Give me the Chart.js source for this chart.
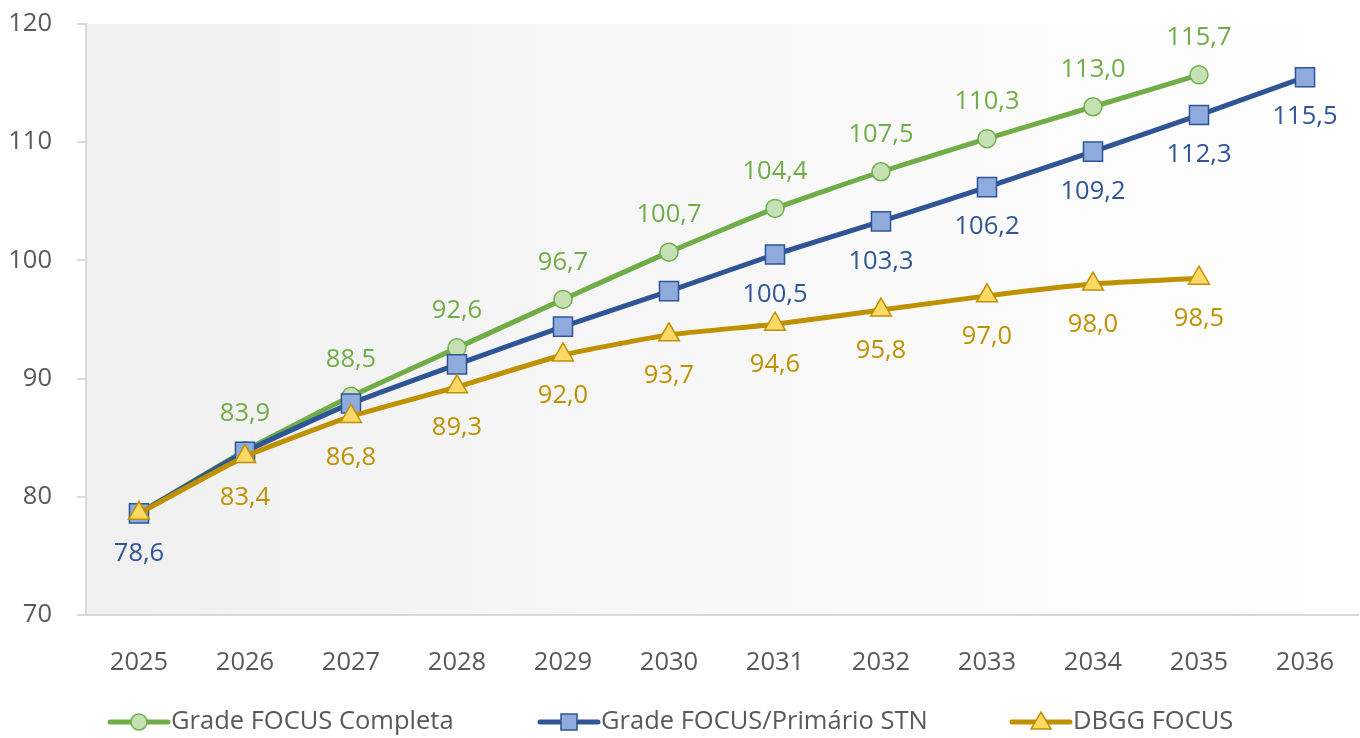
<!DOCTYPE html>
<html>
<head>
<meta charset="utf-8">
<script src="https://cdn.jsdelivr.net/npm/chart.js@4.4.1/dist/chart.umd.min.js"></script>
<style>
  html, body { margin: 0; padding: 0; background: #fff; overflow: hidden; }
  #wrap { width: 1360px; height: 738px; position: relative; }
</style>
</head>
<body>
<div id="wrap"><canvas id="grafico"></canvas></div>
<script>
// Dados
const anos = ['2025', '2026', '2027', '2028', '2029', '2030', '2031', '2032', '2033', '2034', '2035', '2036'];
const gradeCompleta = [78.6, 83.9, 88.5, 92.6, 96.7, 100.7, 104.4, 107.5, 110.3, 113.0, 115.7, null];
const gradePrimario = [78.6, 83.8, 87.9, 91.2, 94.4, 97.4, 100.5, 103.3, 106.2, 109.2, 112.3, 115.5];
const dbggFocus = [78.6, 83.4, 86.8, 89.3, 92.0, 93.7, 94.6, 95.8, 97.0, 98.0, 98.5, null];

// quais pontos têm rótulo
const rotCompleta = [0, 1, 1, 1, 1, 1, 1, 1, 1, 1, 1, 0];
const rotPrimario = [1, 0, 0, 0, 0, 0, 1, 1, 1, 1, 1, 1];
const rotDbgg = [0, 1, 1, 1, 1, 1, 1, 1, 1, 1, 1, 0];

const FONTE = 'Open Sans, sans-serif';
const TAM = 25.5;
const cinzaTexto = '#595959';

const fmt = v => v.toFixed(1).replace('.', ',');

const fundoGradiente = {
    id: 'fundoGradiente',
    beforeDraw(chart) {
        const { ctx, chartArea: a } = chart;
        const g = ctx.createLinearGradient(a.left, 0, a.right, 0);
        g.addColorStop(0, '#f0f0f0');
        g.addColorStop(1, '#ffffff');
        ctx.save();
        ctx.fillStyle = g;
        ctx.fillRect(a.left, a.top, a.right - a.left, a.bottom - a.top);
        ctx.restore();
    }
};

const rotulos = {
    id: 'rotulos',
    afterDatasetsDraw(chart) {
        const ctx = chart.ctx;
        ctx.save();
        ctx.font = TAM + 'px ' + FONTE;
        ctx.textAlign = 'center';
        ctx.textBaseline = 'middle';
        chart.data.datasets.forEach((ds, i) => {
            const meta = chart.getDatasetMeta(i);
            meta.data.forEach((pt, j) => {
                if (!ds.rotulos[j] || ds.data[j] == null) return;
                ctx.fillStyle = ds.corRotulo;
                ctx.fillText(fmt(ds.data[j]), pt.x, pt.y + ds.deslocRotulo);
            });
        });
        ctx.restore();
    }
};

// legenda no estilo do Excel (linha com marcador)
const legenda = {
    id: 'legenda',
    afterDraw(chart) {
        const ctx = chart.ctx;
        const y = 722;
        const itens = [
            { x: 110, ds: chart.data.datasets[0], tipo: 'circle' },
            { x: 540, ds: chart.data.datasets[1], tipo: 'rect' },
            { x: 1012, ds: chart.data.datasets[2], tipo: 'triangle' }
        ];
        ctx.save();
        itens.forEach(it => {
            const ds = it.ds;
            ctx.strokeStyle = ds.borderColor;
            ctx.lineWidth = 5;
            ctx.lineCap = 'round';
            ctx.beginPath();
            ctx.moveTo(it.x, y);
            ctx.lineTo(it.x + 58, y);
            ctx.stroke();
            const cx = it.x + 29;
            ctx.fillStyle = ds.pointBackgroundColor;
            ctx.strokeStyle = ds.pointBorderColor;
            ctx.lineWidth = 1.5;
            ctx.beginPath();
            if (it.tipo === 'circle') ctx.arc(cx, y, 8, 0, Math.PI * 2);
            else if (it.tipo === 'rect') ctx.rect(cx - 8, y - 8, 16, 16);
            else { ctx.moveTo(cx, y - 10); ctx.lineTo(cx + 10, y + 7); ctx.lineTo(cx - 10, y + 7); ctx.closePath(); }
            ctx.fill();
            ctx.stroke();
            ctx.fillStyle = cinzaTexto;
            ctx.font = TAM + 'px ' + FONTE;
            ctx.textAlign = 'left';
            ctx.textBaseline = 'middle';
            ctx.fillText(ds.label, it.x + 61, y);
        });
        ctx.restore();
    }
};

new Chart(document.getElementById('grafico'), {
    type: 'line',
    data: {
        labels: anos,
        datasets: [
            {
                label: 'Grade FOCUS Completa', data: gradeCompleta, rotulos: rotCompleta,
                corRotulo: '#70ad47', deslocRotulo: -37, order: 3,
                borderColor: '#70ad47', borderWidth: 5, tension: 0.15,
                pointStyle: 'circle', pointRadius: 9, pointBackgroundColor: '#c5e0b4',
                pointBorderColor: '#70ad47', pointBorderWidth: 1.5
            },
            {
                label: 'Grade FOCUS/Primário STN', data: gradePrimario, rotulos: rotPrimario,
                corRotulo: '#2f5597', deslocRotulo: 40, order: 2,
                borderColor: '#2f5597', borderWidth: 5, tension: 0.15,
                pointStyle: 'rect', pointRadius: 13.5, pointBackgroundColor: '#8faadc',
                pointBorderColor: '#2f5597', pointBorderWidth: 1.5
            },
            {
                label: 'DBGG FOCUS', data: dbggFocus, rotulos: rotDbgg,
                corRotulo: '#bf9000', deslocRotulo: 41, order: 1,
                borderColor: '#bf9000', borderWidth: 5, tension: 0.15,
                pointStyle: 'triangle', pointRadius: 12, pointBackgroundColor: '#ffd966',
                pointBorderColor: '#bf9000', pointBorderWidth: 1.5
            }
        ]
    },
    options: {
        responsive: true,
        maintainAspectRatio: false,
        animation: false,
        layout: { autoPadding: false, padding: { top: 24, right: 2, left: 0, bottom: 0 } },
        plugins: { legend: { display: false }, tooltip: { enabled: false } },
        scales: {
            x: {
                offset: true,
                grid: { display: false },
                border: { display: true, color: '#d9d9d9', width: 2 },
                ticks: { color: cinzaTexto, font: { family: FONTE, size: TAM }, padding: 24, maxRotation: 0 },
                afterFit: s => { s.height = 123; s.paddingLeft = 0; s.paddingRight = 0; }
            },
            y: {
                min: 70, max: 120,
                grid: { drawOnChartArea: false, color: '#d9d9d9', lineWidth: 2, tickLength: 9 },
                border: { display: true, color: '#d9d9d9', width: 2 },
                ticks: { stepSize: 10, color: cinzaTexto, font: { family: FONTE, size: TAM }, padding: 25 },
                afterFit: s => { s.width = 86; s.paddingTop = 0; s.paddingBottom = 0; }
            }
        }
    },
    plugins: [fundoGradiente, rotulos, legenda]
});
</script>
</body>
</html>
